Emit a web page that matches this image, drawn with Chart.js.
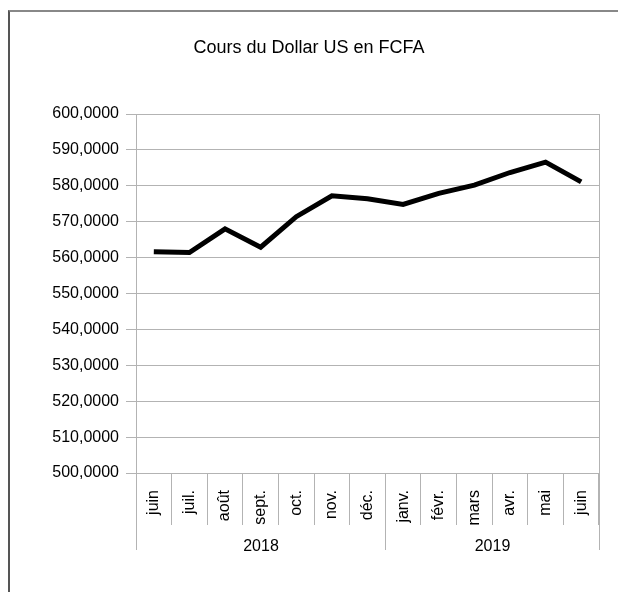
<!DOCTYPE html>
<html lang="fr">
<head>
<meta charset="UTF-8">
<title>Cours du Dollar US en FCFA</title>
<script src="https://cdn.jsdelivr.net/npm/chart.js"></script>
<style>
  html, body { margin: 0; padding: 0; background: #fff; }
  #wrap { position: relative; width: 618px; height: 592px; overflow: hidden; }
  #frame { position: absolute; left: 8px; top: 10px; width: 700px; height: 700px;
           border-left: 2px solid #555; border-top: 2px solid #888; }
  canvas { position: absolute; left: 0; top: 0; }
</style>
</head>
<body>
<div id="wrap">
  <div id="frame"></div>
  <canvas id="chart" width="618" height="592"></canvas>
</div>
<script>
const months = ['juin', 'juil.', 'août', 'sept.', 'oct.', 'nov.', 'déc.', 'janv.', 'févr.', 'mars', 'avr.', 'mai', 'juin'];
const years = ['2018', '2019'];
const monthsPerYear = [7, 6];
const rates = [561.6, 561.4, 568.0, 562.9, 571.4, 577.2, 576.4, 574.8, 577.9, 580.2, 583.7, 586.6, 581.1];
const yMin = 500, yMax = 600, yStep = 10;

const FONT = 'Liberation Sans';
const GRID = '#b3b3b3';

// second row of the category axis: years with their separators
const yearGroups = {
  id: 'yearGroups',
  afterDraw(chart) {
    const x = chart.scales.x, ctx = chart.ctx;
    const step = x.getPixelForValue(1) - x.getPixelForValue(0);
    const edge = i => Math.round(x.getPixelForValue(i) - step / 2) + 0.5;
    ctx.save();
    ctx.strokeStyle = GRID;
    ctx.lineWidth = 1;
    ctx.fillStyle = '#000';
    ctx.font = '16px "' + FONT + '"';
    ctx.textAlign = 'center';
    ctx.textBaseline = 'middle';
    let start = 0;
    monthsPerYear.forEach((n, k) => {
      const a = edge(start), b = edge(start + n);
      [a, b].forEach(px => {
        ctx.beginPath();
        ctx.moveTo(px, x.top);
        ctx.lineTo(px, x.top + 77);
        ctx.stroke();
      });
      ctx.fillText(years[k], (a + b) / 2, x.top + 74);
      start += n;
    });
    ctx.restore();
  }
};

new Chart(document.getElementById('chart'), {
  type: 'line',
  data: {
    labels: months,
    datasets: [{
      data: rates,
      borderColor: '#000',
      borderWidth: 5,
      pointRadius: 0,
      tension: 0,
      fill: false
    }]
  },
  options: {
    responsive: false,
    animation: false,
    layout: { padding: 0 },
    plugins: {
      legend: { display: false },
      tooltip: { enabled: false },
      title: {
        display: true,
        text: 'Cours du Dollar US en FCFA',
        color: '#000',
        font: { family: FONT, size: 18, weight: 'normal' },
        padding: { top: 37, bottom: 55.4 }
      }
    },
    scales: {
      x: {
        offset: true,
        grid: { offset: true, drawOnChartArea: false, drawTicks: true, tickLength: 52, color: GRID },
        border: { color: GRID },
        ticks: {
          autoSkip: false, maxRotation: 90, minRotation: 90, padding: -35,
          color: '#000', font: { family: FONT, size: 16 }
        },
        afterFit: s => { s.height = 119; }
      },
      y: {
        min: yMin, max: yMax,
        grid: { color: GRID, tickLength: 10 },
        border: { color: GRID },
        ticks: {
          stepSize: yStep, padding: 7, color: '#000',
          font: { family: FONT, size: 16 },
          callback: v => v.toFixed(4).replace('.', ',')
        },
        afterFit: s => { s.width = 136; }
      },
      y2: {
        position: 'right',
        min: yMin, max: yMax,
        grid: { drawOnChartArea: false, drawTicks: false },
        border: { color: GRID },
        ticks: { display: false },
        afterFit: s => { s.width = 19; }
      }
    }
  },
  plugins: [yearGroups]
});
</script>
</body>
</html>
